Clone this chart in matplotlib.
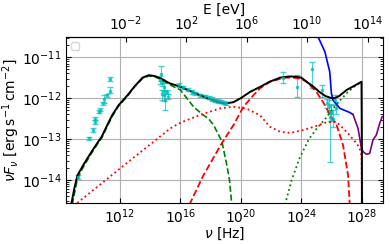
import numpy as np
import matplotlib
matplotlib.use("Agg")
from matplotlib import pyplot as plt
from matplotlib.ticker import FixedLocator, NullLocator

plt.rcParams["font.size"] = 10

h_ev = 4.135667e-15  # eV per Hz

# model components, log10(nu/Hz) and log10(nuFnu)
tot_lx = [8.8, 9.0, 9.2, 9.6, 10.0, 10.5, 10.8, 11.16, 11.5, 11.9, 12.5, 13.0, 13.5, 13.9, 14.3, 14.7,
          15.3, 16.0, 16.6, 17.3, 18.0, 18.6, 18.96, 19.5, 20.0, 20.6, 21.3, 21.9, 22.6, 23.2, 23.7,
          24.0, 24.35, 24.8, 25.2, 25.6, 26.0, 26.2, 26.5, 27.0, 27.5, 27.98, 28.0, 28.01]
tot_ly = [-14.56, -14.18, -13.88, -13.62, -13.38, -13.10, -12.94, -12.66, -12.41, -12.18, -11.93, -11.7,
          -11.5, -11.44, -11.46, -11.52, -11.64, -11.72, -11.82, -11.93, -12.03, -12.1, -12.13, -12.1,
          -12.0, -11.85, -11.72, -11.6, -11.5, -11.47, -11.48, -11.5, -11.6, -11.72, -11.85, -11.95,
          -12.0, -12.0, -11.95, -11.8, -11.7, -11.6, -13.0, -15.0]

syn_lx = [8.85, 9.2, 9.6, 10.0, 10.5, 10.8, 11.16, 11.5, 11.9, 12.5, 13.0, 13.5, 13.9, 14.3, 14.7, 15.3,
          15.55, 16.0, 16.87, 17.5, 17.86, 18.2, 18.74, 19.07, 19.25, 19.4]
syn_ly = [-14.6, -13.95, -13.67, -13.42, -13.13, -12.97, -12.69, -12.44, -12.2, -11.95, -11.71, -11.52,
          -11.46, -11.48, -11.54, -11.67, -11.72, -11.8, -12.21, -12.41, -12.5, -12.66, -13.05, -13.63,
          -14.0, -14.6]

syn2_lx = [9.18, 12.0, 15.33, 16.0, 17.3, 18.63, 19.51, 20.4, 21.27, 21.93, 22.59, 23.25, 24.12, 25.0,
           25.67, 26.33, 26.99, 27.65, 27.86, 27.98, 28.0, 28.01]
syn2_ly = [-14.56, -13.72, -12.74, -12.6, -12.41, -12.25, -12.21, -12.26, -12.42, -12.7, -12.82, -12.85,
           -12.78, -12.68, -12.59, -12.58, -12.82, -13.1, -13.23, -13.4, -14.0, -15.0]

had_lx = [16.6, 17.5, 18.74, 19.51, 20.17, 20.83, 21.27, 21.93, 22.59, 23.0, 23.47, 24.0, 24.35, 25.0,
          25.56, 25.88, 26.33, 26.76, 27.09, 27.2]
had_ly = [-14.6, -13.9, -13.1, -12.66, -12.21, -11.93, -11.76, -11.6, -11.53, -11.5, -11.5, -11.53,
          -11.6, -11.85, -12.17, -12.4, -12.65, -13.15, -13.88, -14.6]

ic_lx = [22.92, 23.36, 23.9, 24.5, 25.0, 25.6, 26.0, 26.5, 27.0, 27.5, 28.0]
ic_ly = [-14.6, -14.0, -13.45, -13.0, -12.75, -12.5, -12.3, -12.08, -11.88, -11.72, -11.6]

sens1_lx = [25.1, 25.56, 25.88, 25.99, 26.1, 26.55, 27.2, 27.42]
sens1_ly = [-10.5, -10.87, -11.36, -11.89, -12.05, -12.25, -12.35, -12.4]

sens2_lx = [27.42, 27.75, 27.98, 28.09, 28.3, 28.52, 28.74, 28.96, 29.18, 29.35]
sens2_ly = [-12.4, -12.74, -13.23, -13.31, -13.37, -13.35, -13.02, -12.9, -12.62, -12.45]

# observed points: log nu, log nuFnu, lower/upper error in dex
obs_lx = [9.26, 9.97, 10.19, 10.36, 10.36, 10.63, 10.69, 10.91, 10.98, 11.13, 11.35, 11.35,
          14.67, 14.72, 14.78, 14.8, 14.89, 14.89, 15.0, 15.11, 15.15,
          15.9, 16.2, 16.5, 16.8, 17.0, 17.3, 17.6, 17.9, 18.1, 18.3, 18.5, 18.7, 18.9, 19.05,
          22.8, 23.73, 24.72, 25.38, 25.67, 25.8, 25.88, 25.95, 25.99, 26.1, 26.2, 26.26]
obs_ly = [-13.92, -12.98, -12.78, -12.58, -12.5, -12.33, -12.28, -12.13, -12.03, -11.93, -11.82, -11.54,
          -11.55, -11.4, -11.89, -11.62, -11.72, -11.93, -12.05, -11.85, -11.97,
          -11.68, -11.74, -11.79, -11.85, -11.88, -11.93, -11.96, -11.99, -12.02, -12.05, -12.07,
          -12.09, -12.11, -12.13,
          -11.5, -11.72, -11.3, -11.8, -12.13, -12.2, -12.46, -12.35, -12.37, -12.5, -12.05, -12.24]
obs_elo = [0.05, 0.04, 0.04, 0.04, 0.04, 0.04, 0.04, 0.04, 0.08, 0.04, 0.05, 0.05,
           0.1, 0.17, 0.15, 0.08, 0.1, 0.15, 0.25, 0.06, 0.06,
           0.04, 0.04, 0.04, 0.04, 0.04, 0.04, 0.04, 0.04, 0.04, 0.04, 0.04, 0.04, 0.04, 0.04,
           0.14, 0.25, 0.46, 0.17, 0.12, 0.15, 1.09, 0.2, 0.2, 0.2, 0.12, 0.15]
obs_ehi = [0.05, 0.04, 0.04, 0.04, 0.04, 0.04, 0.04, 0.04, 0.1, 0.04, 0.1, 0.05,
           0.1, 0.18, 0.1, 0.08, 0.1, 0.12, 0.2, 0.06, 0.06,
           0.04, 0.04, 0.04, 0.04, 0.04, 0.04, 0.04, 0.04, 0.04, 0.04, 0.04, 0.04, 0.04, 0.04,
           0.13, 0.28, 0.19, 0.12, 0.12, 0.15, 0.16, 0.2, 0.2, 0.2, 0.12, 0.15]

nu_ticks = [1e12, 1e16, 1e20, 1e24, 1e28]
e_ticks = [1e-2, 1e2, 1e6, 1e10, 1e14]

fig = plt.figure(figsize=(3.9, 2.44), dpi=100)
ax = fig.add_axes([0.169, 0.168, 0.813, 0.68])

p = lambda a: 10 ** np.array(a)

obs_y = p(obs_ly)
yerr = [obs_y - p(np.array(obs_ly) - np.array(obs_elo)), p(np.array(obs_ly) + np.array(obs_ehi)) - obs_y]
ax.errorbar(p(obs_lx), obs_y, yerr=yerr, fmt="s", color="c", ms=2, lw=0.8, capsize=2,
            alpha=0.7, zorder=2)

ax.plot(p(syn_lx), p(syn_ly), "--", color="green", lw=1.2)
ax.plot(p(syn2_lx), p(syn2_ly), ":", color="red", lw=1.3)
ax.plot(p(had_lx), p(had_ly), "--", color="red", lw=1.3)
ax.plot(p(ic_lx), p(ic_ly), ":", color="green", lw=1.3)
ax.plot(p(sens1_lx), p(sens1_ly), "-", color="blue", lw=1.2)
ax.plot(p(sens2_lx), p(sens2_ly), "-", color="purple", lw=1.2)
ax.plot(p(tot_lx), p(tot_ly), "-", color="black", lw=1.4)

ax.set_xscale("log")
ax.set_yscale("log")
ax.set_xlim(10 ** 8.43, 10 ** 29.4)
ax.set_ylim(10 ** -14.56, 10 ** -10.51)
ax.xaxis.set_major_locator(FixedLocator(nu_ticks))
ax.xaxis.set_minor_locator(NullLocator())
ax.grid(True, color="#b0b0b0", lw=0.8)
ax.tick_params(which="both", direction="in", right=True, pad=3)
ax.set_xlabel(r"$\nu$ [Hz]", labelpad=0)
ax.set_ylabel(r"$\nu F_{\nu}$ [$\mathrm{erg\,s^{-1}\,cm^{-2}}$]", labelpad=0)

sec = ax.secondary_xaxis("top", functions=(lambda x: x * h_ev, lambda e: e / h_ev))
sec.xaxis.set_major_locator(FixedLocator(e_ticks))
sec.xaxis.set_minor_locator(NullLocator())
sec.set_xlabel("E [eV]", labelpad=0)
sec.tick_params(which="both", direction="in", pad=3)

ax.legend(handles=[], loc="upper left", fontsize=7)

fig.savefig("out.png", dpi=100)
